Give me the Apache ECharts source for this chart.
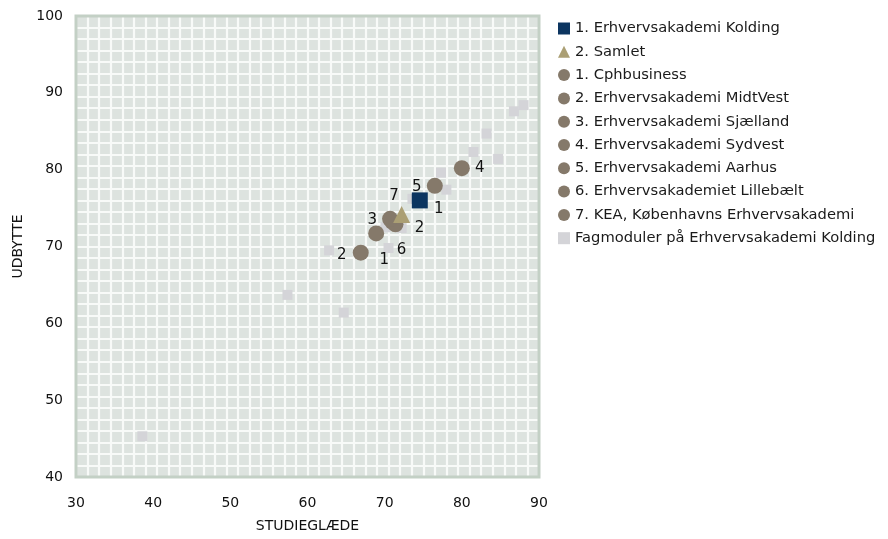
<!DOCTYPE html>
<html>
<head>
<meta charset="utf-8">
<script src="https://cdn.jsdelivr.net/npm/echarts@6/dist/echarts.min.js"></script>
<style>
html,body{margin:0;padding:0;background:#fff;}
#chart{width:888px;height:539px;}
</style>
</head>
<body>
<div id="chart"></div>
<script>
// ---- data ----
const kolding = [[74.55, 76.0]];
const samlet = [[72.2, 74.15]];
const cphbusiness = [[71.0, 73.2]];
const midtvest = [[66.9, 69.2]];
const sjaelland = [[68.9, 71.7]];
const sydvest = [[80.0, 80.2]];
const aarhus = [[76.5, 77.9]];
const lillebaelt = [[71.4, 72.9]];
const kea = [[70.7, 73.6]];
const fagmoduler = [
  [88.0, 88.4], [86.75, 87.6], [83.2, 84.7], [81.5, 82.3], [84.7, 81.4],
  [77.3, 79.6], [78.0, 77.4], [73.6, 76.2], [72.2, 72.4], [70.1, 72.5],
  [70.5, 69.8], [62.8, 69.5], [57.4, 63.7], [64.7, 61.4], [38.6, 45.3]
];
const seriesNames = [
  '1. Erhvervsakademi Kolding', '2. Samlet', '1. Cphbusiness',
  '2. Erhvervsakademi MidtVest', '3. Erhvervsakademi Sjælland',
  '4. Erhvervsakademi Sydvest', '5. Erhvervsakademi Aarhus',
  '6. Erhvervsakademiet Lillebælt', '7. KEA, Københavns Erhvervsakademi',
  'Fagmoduler på Erhvervsakademi Kolding'
];
const pointLabels = ['1', '2', '1', '2', '3', '4', '5', '6', '7', ''];
const xTicks = [30, 40, 50, 60, 70, 80, 90];
const yTicks = [40, 50, 60, 70, 80, 90, 100];

// ---- styling ----
const FONT = '"DejaVu Sans", Verdana, sans-serif';
const labelOffsets = [[19, 9], [18, 13], [-8, 38], [-19, 2], [-4, -13], [18, 0], [-18, 1], [6, 26], [4, -23], [0, 0]];
const datasets = [kolding, samlet, cphbusiness, midtvest, sjaelland, sydvest, aarhus, lillebaelt, kea, fagmoduler];
const symbols = ['rect', 'triangle', 'circle', 'circle', 'circle', 'circle', 'circle', 'circle', 'circle', 'rect'];
const sizes = [16, 17, 16, 16, 16, 16, 16, 16, 16, 10];
const colors = ['#0c3560', '#ab9f74', '#85796a', '#85796a', '#85796a', '#85796a', '#85796a', '#85796a', '#85796a', '#d4d4d8'];
const zs = [5, 5, 3, 3, 3, 3, 3, 3, 3, 2];

const series = datasets.map((d, i) => ({
  name: seriesNames[i],
  type: 'scatter',
  xAxisIndex: 0,
  yAxisIndex: 0,
  data: d,
  symbol: symbols[i],
  symbolSize: sizes[i],
  z: zs[i],
  itemStyle: { color: colors[i], opacity: 1 },
  label: {
    show: pointLabels[i] !== '',
    position: 'inside',
    offset: labelOffsets[i],
    formatter: () => pointLabels[i],
    color: '#111',
    fontSize: 15,
    fontFamily: FONT
  },
  emphasis: { disabled: true }
}));

const GL = 76, GT = 16, GW = 463, GH = 461;

const chart = echarts.init(document.getElementById('chart'), null, { renderer: 'canvas' });
chart.setOption({
  animation: false,
  backgroundColor: '#ffffff',
  textStyle: { fontFamily: FONT },
  grid: {
    left: GL, top: GT, width: GW, height: GH,
    show: true, backgroundColor: '#dde3df', borderWidth: 0
  },
  legend: {
    orient: 'vertical',
    left: 553, top: 16,
    itemWidth: 12, itemHeight: 12, itemGap: 8.3,
    textStyle: { fontSize: 14.7, color: '#1a1a1a', fontFamily: FONT },
    data: seriesNames.map((n) => ({ name: n })),
    selectedMode: false
  },
  xAxis: [{
    type: 'value', min: 30, max: 90, interval: 10,
    position: 'bottom',
    name: 'STUDIEGLÆDE', nameLocation: 'middle', nameGap: 42,
    nameTextStyle: { fontSize: 14, color: '#111', fontFamily: FONT },
    axisLine: { show: false }, axisTick: { show: false },
    axisLabel: { fontSize: 14, color: '#111', margin: 19, fontFamily: FONT,
      formatter: (v) => xTicks.includes(v) ? String(v) : '' },
    splitLine: { show: false }
  }, {
    type: 'value', min: 30, max: 90, interval: 1.5,
    position: 'top',
    axisLine: { show: false }, axisTick: { show: false }, axisLabel: { show: false },
    splitLine: { show: true, lineStyle: { color: '#f8faf8', width: 2.2 } }
  }],
  yAxis: [{
    type: 'value', min: 40, max: 100, interval: 10,
    position: 'left',
    name: 'UDBYTTE', nameLocation: 'middle', nameGap: 50, nameRotate: 90,
    nameTextStyle: { fontSize: 14, color: '#111', fontFamily: FONT },
    axisLine: { show: false }, axisTick: { show: false },
    axisLabel: { fontSize: 14, color: '#111', margin: 13, fontFamily: FONT,
      formatter: (v) => yTicks.includes(v) ? String(v) : '' },
    splitLine: { show: false }
  }, {
    type: 'value', min: 40, max: 100, interval: 1.5,
    position: 'right',
    axisLine: { show: false }, axisTick: { show: false }, axisLabel: { show: false },
    splitLine: { show: true, lineStyle: { color: '#f8faf8', width: 2.2 } }
  }],
  graphic: [{
    type: 'rect',
    shape: { x: GL, y: GT, width: GW, height: GH },
    style: { fill: 'none', stroke: '#c3d0c5', lineWidth: 3 },
    z: 1, silent: true
  }],
  series: series
});
</script>
</body>
</html>
